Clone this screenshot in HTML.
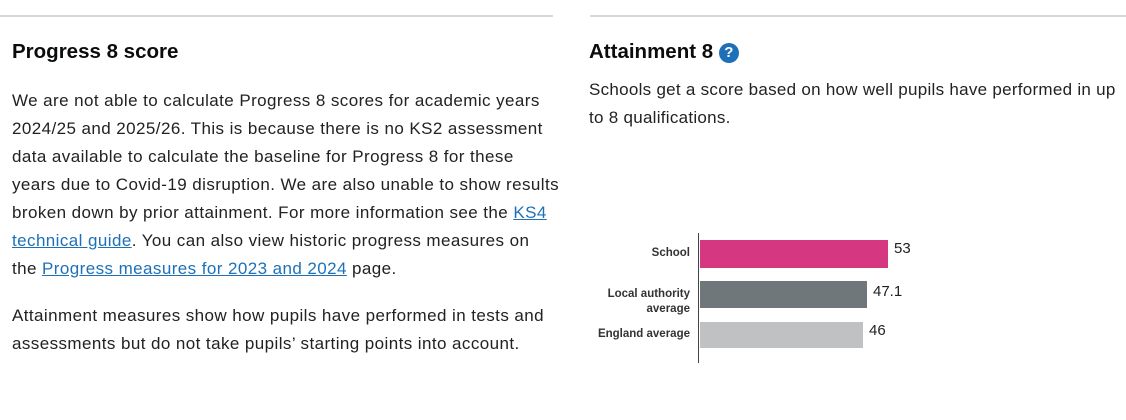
<!DOCTYPE html>
<html><head><meta charset="utf-8"><style>
body{margin:0;width:1126px;height:420px;background:#fff;position:relative;overflow:hidden;font-family:"Liberation Sans",Arial,sans-serif;color:#0b0c0c}
.hr{position:absolute;top:15px;height:2px;background:#d8d8d8}
.h{position:absolute;font-weight:bold;font-size:20.5px;color:#0b0c0c}
.l{position:absolute;left:12px;font-size:17px;letter-spacing:0.42px;white-space:nowrap;color:#222}
a{color:#1d70b8;text-decoration:underline}
.bar{position:absolute;left:700px}
.lab{position:absolute;font-size:11.5px;font-weight:bold;text-align:right;right:436px;line-height:15px;color:#333}
.v{position:absolute;font-size:15px;color:#222}
</style></head><body>
<div class="hr" style="left:0;width:553px"></div>
<div class="hr" style="left:590px;width:536px"></div>
<div class="h" style="left:12px;top:40px">Progress 8 score</div>
<div class="l" style="top:91px">We are not able to calculate Progress 8 scores for academic years</div>
<div class="l" style="top:119px">2024/25 and 2025/26. This is because there is no KS2 assessment</div>
<div class="l" style="top:147px">data available to calculate the baseline for Progress 8 for these</div>
<div class="l" style="top:175px">years due to Covid-19 disruption. We are also unable to show results</div>
<div class="l" style="top:203px">broken down by prior attainment. For more information see the <a>KS4</a></div>
<div class="l" style="top:231px"><a>technical guide</a>. You can also view historic progress measures on</div>
<div class="l" style="top:259px">the <a>Progress measures for 2023 and 2024</a> page.</div>
<div class="l" style="top:306px">Attainment measures show how pupils have performed in tests and</div>
<div class="l" style="top:334px">assessments but do not take pupils’ starting points into account.</div>
<div class="h" style="left:589px;top:40px">Attainment 8 <span style="display:inline-block;width:20px;height:20px;border-radius:50%;background:#1d70b8;color:#fff;font-size:15px;text-align:center;line-height:20px;vertical-align:1px">?</span></div>
<div class="l" style="left:589px;top:80px;letter-spacing:0.28px">Schools get a score based on how well pupils have performed in up</div>
<div class="l" style="left:589px;top:108px;letter-spacing:0.28px">to 8 qualifications.</div>
<div style="position:absolute;left:698px;top:233px;width:1px;height:130px;background:#444"></div>
<div class="bar" style="top:240px;width:188px;height:28px;background:#d53880"></div>
<div class="bar" style="top:281px;width:167px;height:27px;background:#6f777b"></div>
<div class="bar" style="top:322px;width:163px;height:26px;background:#bfc1c3"></div>
<div class="lab" style="top:246px">School</div>
<div class="lab" style="top:287px">Local authority<br>average</div>
<div class="lab" style="top:327px">England average</div>
<div class="v" style="left:894px;top:240px">53</div>
<div class="v" style="left:873px;top:283px">47.1</div>
<div class="v" style="left:869px;top:322px">46</div>
</body></html>
